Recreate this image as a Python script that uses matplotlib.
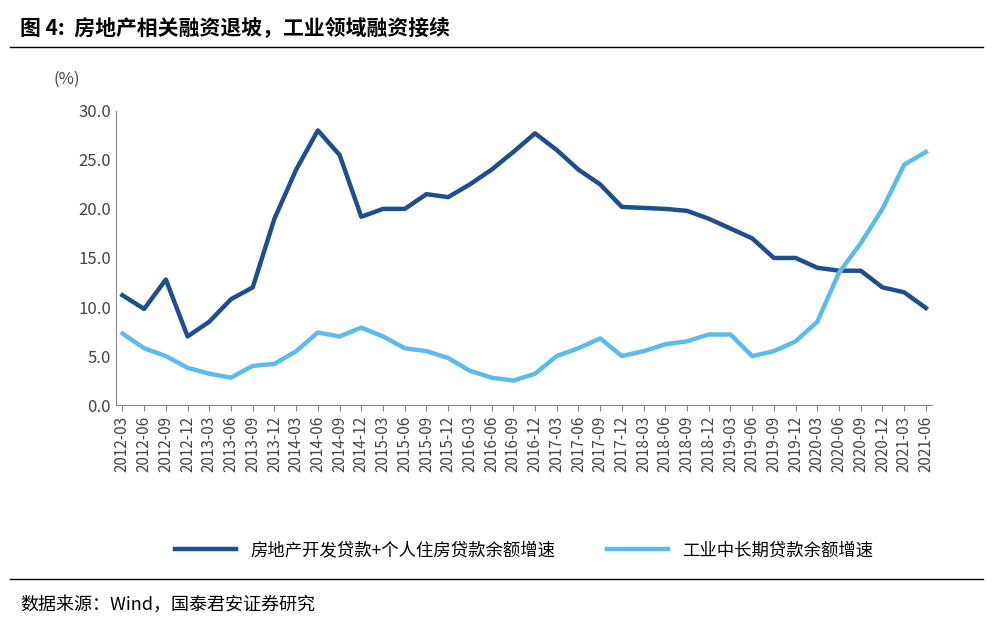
import matplotlib
matplotlib.use("Agg")
import matplotlib.pyplot as plt

plt.rcParams['font.family'] = ['Noto Sans CJK SC', 'DejaVu Sans']

# quarterly dates
dates = [f"{y}-{m}" for y in range(2012, 2022) for m in ("03", "06", "09", "12")][:38]

property_loans = [11.2, 9.8, 12.8, 7.0, 8.5, 10.8, 12.0, 19.0, 24.0, 28.0, 25.5, 19.2,
                  20.0, 20.0, 21.5, 21.2, 22.5, 24.0, 25.8, 27.7, 26.0, 24.0, 22.5, 20.2,
                  20.1, 20.0, 19.8, 19.0, 18.0, 17.0, 15.0, 15.0, 14.0, 13.7, 13.7, 12.0,
                  11.5, 9.9]
industry_loans = [7.3, 5.8, 5.0, 3.8, 3.2, 2.8, 4.0, 4.2, 5.5, 7.4, 7.0, 7.9,
                  7.0, 5.8, 5.5, 4.8, 3.5, 2.8, 2.5, 3.2, 5.0, 5.8, 6.8, 5.0,
                  5.5, 6.2, 6.5, 7.2, 7.2, 5.0, 5.5, 6.5, 8.5, 13.5, 16.5, 20.0,
                  24.5, 25.8]

fig = plt.figure(figsize=(10.08, 6.33), dpi=100)
ax = fig.add_axes([0.115, 0.36, 0.81, 0.465])

x = range(len(dates))
ax.plot(x, property_loans, color="#1f4e8c", lw=3.2, solid_joinstyle="round",
        label="房地产开发贷款+个人住房贷款余额增速")
ax.plot(x, industry_loans, color="#5bbcec", lw=3.2, solid_joinstyle="round",
        label="工业中长期贷款余额增速")

ax.set_ylim(0, 30)
ax.set_xlim(-0.3, len(dates) - 0.7)
ax.set_yticks([0, 5, 10, 15, 20, 25, 30])
ax.set_yticklabels([f"{v:.1f}" for v in [0, 5, 10, 15, 20, 25, 30]], fontsize=12, color="#444444")
ax.set_xticks(list(x))
ax.set_xticklabels(dates, rotation=90, fontsize=11, color="#444444")
for s in ("top", "right"):
    ax.spines[s].set_visible(False)
ax.spines["left"].set_color("#888888")
ax.spines["bottom"].set_color("#888888")
ax.tick_params(axis="y", length=0)
ax.tick_params(axis="x", length=4, color="#888888")
ax.text(-0.06, 1.09, "(%)", transform=ax.transAxes, fontsize=12, color="#444444", ha="center")

ax.legend(loc="upper center", bbox_to_anchor=(0.5, -0.41), ncol=2, frameon=False,
          fontsize=12.5, handlelength=3.5, columnspacing=3)

fig.text(0.02, 0.955, "图 4:  房地产相关融资退坡，工业领域融资接续", fontsize=15,
         fontweight="bold", va="center")
fig.add_artist(plt.Line2D([0.01, 0.975], [0.925, 0.925], color="black", lw=1))
fig.add_artist(plt.Line2D([0.01, 0.975], [0.085, 0.085], color="black", lw=1))
fig.text(0.02, 0.045, "数据来源：Wind，国泰君安证券研究", fontsize=13, va="center")

fig.savefig("out.png", dpi=100)
